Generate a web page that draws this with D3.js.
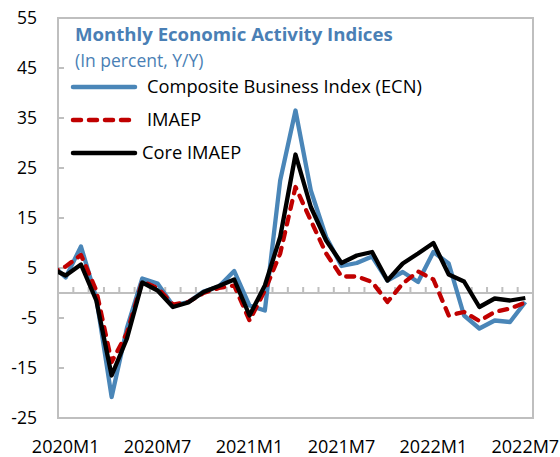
<!DOCTYPE html>
<html>
<head>
<meta charset="utf-8">
<script src="https://cdn.jsdelivr.net/npm/d3@7"></script>
<style>
  body { margin: 0; background: #fff; }
  svg { font-family: "Open Sans", "Noto Sans", sans-serif; }
</style>
</head>
<body>
<svg id="svg1"></svg>
<script>
// months; first entry lies before the axis start and gets clipped by the frame
var months = ["2019M12",
  "2020M1","2020M2","2020M3","2020M4","2020M5","2020M6","2020M7","2020M8","2020M9","2020M10","2020M11","2020M12",
  "2021M1","2021M2","2021M3","2021M4","2021M5","2021M6","2021M7","2021M8","2021M9","2021M10","2021M11","2021M12",
  "2022M1","2022M2","2022M3","2022M4","2022M5","2022M6","2022M7"];
var ecn = [6.0,
  3.1, 9.3, -1.0, -20.8, -7.0, 2.9, 1.9, -2.5, -1.8, 0.3, 1.3, 4.4,
  -2.5, -3.5, 22.5, 36.5, 20.5, 11.2, 5.4, 6.0, 7.3, 2.5, 4.2, 2.2,
  8.2, 5.9, -4.5, -7.1, -5.5, -5.8, -1.8];
var imaep = [4.0,
  5.3, 7.6, 0.5, -13.8, -8.0, 2.3, 1.0, -2.3, -1.8, 0.0, 1.0, 1.5,
  -5.5, 0.5, 7.9, 21.2, 14.5, 7.9, 3.3, 3.3, 2.2, -1.8, 1.9, 4.3,
  2.7, -4.5, -3.8, -5.6, -3.8, -3.1, -1.9];
var core = [5.0,
  3.5, 5.7, -1.5, -16.5, -9.1, 2.1, 0.5, -2.8, -1.9, 0.2, 1.4, 2.7,
  -4.5, 1.5, 11.2, 27.7, 17.2, 10.5, 6.0, 7.5, 8.2, 2.5, 5.9, 7.9,
  10.0, 3.7, 2.3, -2.8, -1.1, -1.5, -1.0];
var xLabels = ["2020M1","2020M7","2021M1","2021M7","2022M1","2022M7"];
var yTicks = [-25, -15, -5, 5, 15, 25, 35, 45, 55];

var W = 560, H = 457;
var margin = {left: 58, right: 27, top: 18, bottom: 39};
var width = W - margin.left - margin.right;
var height = H - margin.top - margin.bottom;

var svg = d3.select("#svg1")
  .attr("width", W)
  .attr("height", H)
  .append("g")
    .attr("transform", "translate(" + margin.left + "," + margin.top + ")");

var nCat = 31;
var x = d3.scaleLinear().domain([0, nCat]).range([0, width]);
var y = d3.scaleLinear().domain([-25, 55]).range([height, 0]);
function cx(i) { return x(i - 0.5); } // i=1 is 2020M1, centred in its cell

svg.append("clipPath").attr("id", "plotclip")
  .append("rect").attr("width", width).attr("height", height);

// zero line with month ticks
svg.append("line")
  .attr("x1", 0).attr("x2", width)
  .attr("y1", y(0)).attr("y2", y(0))
  .attr("stroke", "#bfbfbf").attr("stroke-width", 2);
svg.selectAll(".xtick")
  .data(d3.range(1, nCat))
  .enter().append("line")
  .attr("class", "xtick")
  .attr("x1", function(d) { return x(d); }).attr("x2", function(d) { return x(d); })
  .attr("y1", y(0)).attr("y2", y(0) - 6)
  .attr("stroke", "#bfbfbf").attr("stroke-width", 2);

// y ticks (inside) and labels
svg.selectAll(".ytick")
  .data(yTicks)
  .enter().append("line")
  .attr("class", "ytick")
  .attr("x1", 0).attr("x2", 6)
  .attr("y1", function(d) { return y(d); }).attr("y2", function(d) { return y(d); })
  .attr("stroke", "#bfbfbf").attr("stroke-width", 2);
svg.selectAll(".ylab")
  .data(yTicks)
  .enter().append("text")
  .attr("class", "ylab")
  .attr("x", -21).attr("y", function(d) { return y(d); })
  .attr("dy", "0.35em")
  .attr("text-anchor", "end")
  .attr("font-size", 17.5)
  .attr("fill", "#000")
  .text(function(d) { return d; });

svg.selectAll(".xlab")
  .data(xLabels)
  .enter().append("text")
  .attr("class", "xlab")
  .attr("x", function(d) { return cx(months.indexOf(d)); })
  .attr("y", height + 35)
  .attr("text-anchor", "middle")
  .attr("font-size", 18)
  .attr("fill", "#000")
  .text(function(d) { return d; });

// frame
svg.append("rect")
  .attr("width", width).attr("height", height)
  .attr("fill", "none").attr("stroke", "#bfbfbf").attr("stroke-width", 2);

var line = d3.line()
  .x(function(d, i) { return cx(i); })
  .y(function(d) { return y(d); });

var series = [
  {name: "Composite Business Index (ECN)", values: ecn, color: "#4a86b8", dash: null},
  {name: "IMAEP", values: imaep, color: "#c00000", dash: "8,8"},
  {name: "Core IMAEP", values: core, color: "#000000", dash: null}
];

svg.append("g").attr("clip-path", "url(#plotclip)")
  .selectAll(".series")
  .data(series)
  .enter().append("path")
  .attr("class", "series")
  .attr("d", function(d) { return line(d.values); })
  .attr("fill", "none")
  .attr("stroke", function(d) { return d.color; })
  .attr("stroke-width", 4.3)
  .attr("stroke-linejoin", "round")
  .attr("stroke-linecap", function(d) { return d.dash ? "round" : "butt"; })
  .attr("stroke-dasharray", function(d) { return d.dash; });

// title
svg.append("text")
  .attr("x", 17).attr("y", 23)
  .attr("font-size", 18.6).attr("font-weight", "bold")
  .attr("fill", "#4a7fb5")
  .text("Monthly Economic Activity Indices");
svg.append("text")
  .attr("x", 17).attr("y", 49)
  .attr("font-size", 17.5)
  .attr("fill", "#4a7fb5")
  .text("(In percent, Y/Y)");

// legend
var legY = [69, 102, 135];
var leg = svg.selectAll(".leg")
  .data(series)
  .enter().append("g")
  .attr("class", "leg")
  .attr("transform", function(d, i) { return "translate(0," + legY[i] + ")"; });
leg.append("line")
  .attr("x1", 15).attr("x2", 77)
  .attr("stroke", function(d) { return d.color; })
  .attr("stroke-width", 4.5)
  .attr("stroke-linecap", "round")
  .attr("stroke-dasharray", function(d) { return d.dash; });
leg.append("text")
  .attr("x", function(d, i) { return i == 2 ? 84 : 89; })
  .attr("dy", "0.35em")
  .attr("font-size", 18.3)
  .attr("fill", "#000")
  .text(function(d) { return d.name; });
</script>
</body>
</html>
